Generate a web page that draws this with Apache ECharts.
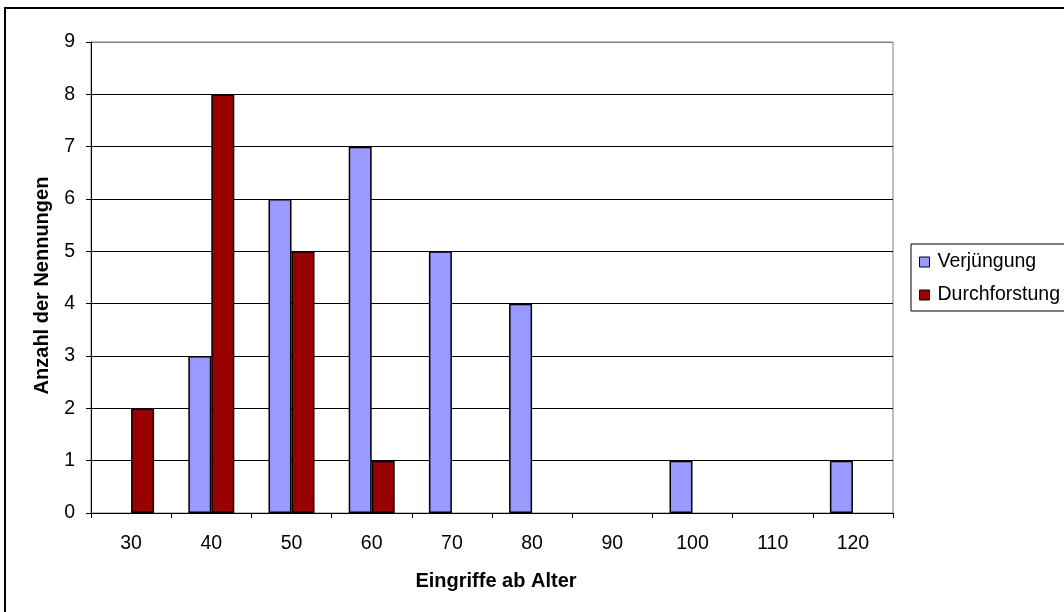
<!DOCTYPE html>
<html>
<head>
<meta charset="utf-8">
<script src="https://cdn.jsdelivr.net/npm/echarts@6/dist/echarts.min.js"></script>
<style>
  html, body { margin: 0; padding: 0; background: #fff; }
  #chart { width: 1064px; height: 612px; }
</style>
</head>
<body>
<div id="chart"></div>
<script>
// Age thresholds (years) at which interventions are named
const categories = ['30', '40', '50', '60', '70', '80', '90', '100', '110', '120'];
// Number of mentions per measure
const verjuengung = [0, 3, 6, 7, 5, 4, 0, 1, 0, 1];
const durchforstung = [2, 8, 5, 1, 0, 0, 0, 0, 0, 0];
const seriesNames = ['Verjüngung', 'Durchforstung'];
const yTicks = [0, 1, 2, 3, 4, 5, 6, 7, 8, 9];

const FONT = "'Liberation Sans', Arial, sans-serif";
const chart = echarts.init(document.getElementById('chart'), null, { renderer: 'canvas' });

// grid lines black, the top one matches the grey plot border
const gridColors = yTicks.map((v, i) => (i === yTicks.length - 1 ? '#808080' : '#000'));

// zero counts get no bar at all
const asBars = arr => arr.map(v => (v === 0 ? '-' : v));

chart.setOption({
  backgroundColor: '#fff',
  animation: false,
  graphic: [{
    type: 'rect',
    shape: { x: 5, y: 8, width: 1100, height: 700 },
    style: { fill: 'none', stroke: '#000', lineWidth: 2 },
    silent: true
  }],
  grid: {
    left: 91, top: 42, width: 802, height: 471,
    show: true, borderColor: '#808080', borderWidth: 1, backgroundColor: 'transparent'
  },
  legend: {
    orient: 'vertical',
    left: 911, top: 244,
    data: seriesNames,
    backgroundColor: '#fff',
    borderColor: '#000', borderWidth: 1,
    padding: [8, 40, 6, 8],
    itemGap: 13,
    itemWidth: 10, itemHeight: 10,
    icon: 'rect',
    itemStyle: { borderColor: '#000', borderWidth: 1 },
    textStyle: { fontFamily: FONT, fontSize: 19.5, color: '#000', padding: [0, 0, 0, 3] }
  },
  xAxis: {
    type: 'category',
    data: categories,
    name: 'Eingriffe ab Alter',
    nameLocation: 'middle',
    nameGap: 58,
    nameTextStyle: { fontFamily: FONT, fontSize: 20, fontWeight: 'bold', color: '#000', padding: [0, 0, 0, 8] },
    axisLine: { lineStyle: { color: '#000', width: 1 } },
    axisTick: { show: true, alignWithLabel: false, length: 5, lineStyle: { color: '#000' } },
    axisLabel: { fontFamily: FONT, fontSize: 19.5, color: '#000', margin: 21 },
    splitLine: { show: false }
  },
  yAxis: {
    type: 'value',
    min: 0, max: 9, interval: 1,
    name: 'Anzahl der Nennungen',
    nameLocation: 'middle',
    nameGap: 39,
    nameTextStyle: { fontFamily: FONT, fontSize: 20, fontWeight: 'bold', color: '#000', padding: [0, 16, 0, 0] },
    axisLine: { show: true, lineStyle: { color: '#000', width: 1 } },
    axisTick: { show: true, length: 5, lineStyle: { color: '#000' } },
    axisLabel: { fontFamily: FONT, fontSize: 19.5, color: '#000', margin: 16 },
    splitLine: { show: true, lineStyle: { color: gridColors, width: 1 } }
  },
  series: [
    {
      name: seriesNames[0],
      type: 'bar',
      data: asBars(verjuengung),
      barWidth: 23,
      barGap: '0%',
      itemStyle: { color: '#9999FF', borderColor: '#000', borderWidth: 1.5 }
    },
    {
      name: seriesNames[1],
      type: 'bar',
      data: asBars(durchforstung),
      barWidth: 23,
      barGap: '0%',
      itemStyle: { color: '#990000', borderColor: '#000', borderWidth: 1.5 }
    }
  ]
});
</script>
</body>
</html>
